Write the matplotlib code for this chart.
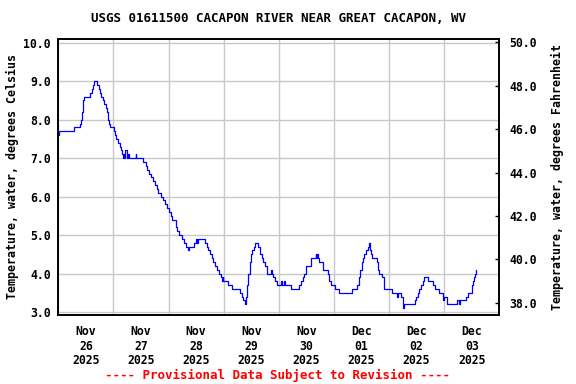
import matplotlib
matplotlib.use("Agg")
import matplotlib.pyplot as plt
import matplotlib.dates as mdates
import pandas as pd

# hours after 2025-11-26 00:00 and water temperature (deg C)
hours = [0, 0.25, 6.75, 9.25, 9.75, 10.5, 10.9, 11.3, 13.8, 14.5, 15.0, 15.7,
         16.7, 17.6, 18.2, 18.6, 19.3, 19.9, 20.6, 21.1, 21.5, 22.1, 22.6, 24.1,
         24.7, 25.1, 26.0, 26.9, 27.3, 27.9, 28.25, 28.75, 29.0, 29.25, 29.75, 30.0,
         30.5, 30.75, 33.75, 34.0, 36.75, 37.5, 38.2, 38.8, 39.5, 40.25, 40.8, 41.4,
         42.1, 42.9, 43.6, 44.7, 45.7, 46.5, 47.2, 48.2, 49.1, 49.4, 51.2, 51.8,
         52.6, 54.0, 54.75, 55.6, 56.5, 56.75, 59.1, 59.85, 60.3, 61.0, 63.9, 64.6,
         65.3, 66.1, 66.8, 67.5, 68.25, 69.0, 70.0, 70.75, 71.25, 71.5, 71.9, 74.05,
         75.8, 79.15, 79.9, 80.6, 81.3, 81.75, 82.3, 82.75, 83.5, 83.9, 84.5, 85.25,
         85.7, 86.9, 87.9, 88.6, 89.3, 90.0, 90.8, 92.6, 93.1, 93.65, 94.4, 95.1,
         96.9, 97.5, 98.3, 98.75, 101.2, 105.0, 105.7, 106.5, 107.0, 107.8, 109.9, 112.0,
         112.3, 112.6, 113.25, 113.7, 115.4, 117.35, 117.9, 118.65, 120.5, 122.4, 127.8, 130.25,
         131.0, 131.4, 132.2, 132.6, 133.3, 134.0, 134.8, 135.3, 135.8, 136.2, 136.5, 138.7,
         139.0, 139.7, 140.9, 141.6, 142.0, 145.25, 147.4, 147.75, 149.4, 149.9, 150.3, 155.1,
         155.7, 156.4, 157.1, 157.9, 158.6, 159.3, 161.0, 163.1, 163.8, 165.8, 167.3, 167.7,
         168.0, 169.2, 173.8, 174.5, 174.75, 177.6, 178.6, 180.1, 180.5, 181.1, 181.4, 181.8]
temp_c = [7.6, 7.7, 7.8, 7.9, 8.0, 8.2, 8.5, 8.6, 8.7, 8.8, 8.9, 9.0,
          8.9, 8.8, 8.7, 8.6, 8.5, 8.4, 8.3, 8.2, 8.0, 7.9, 7.8, 7.7,
          7.6, 7.5, 7.4, 7.3, 7.2, 7.1, 7.0, 7.1, 7.0, 7.2, 7.1, 7.0,
          7.1, 7.0, 7.1, 7.0, 6.9, 6.9, 6.8, 6.7, 6.6, 6.5, 6.5, 6.4,
          6.3, 6.2, 6.1, 6.0, 5.9, 5.8, 5.7, 5.6, 5.5, 5.4, 5.2, 5.1,
          5.0, 4.9, 4.8, 4.7, 4.6, 4.7, 4.8, 4.9, 4.8, 4.9, 4.8, 4.7,
          4.6, 4.5, 4.4, 4.3, 4.2, 4.1, 4.0, 3.9, 3.8, 3.9, 3.8, 3.7,
          3.6, 3.5, 3.4, 3.3, 3.2, 3.4, 3.7, 4.0, 4.3, 4.5, 4.6, 4.7,
          4.8, 4.7, 4.5, 4.4, 4.3, 4.2, 4.0, 4.1, 4.0, 3.9, 3.8, 3.7,
          3.8, 3.7, 3.8, 3.7, 3.6, 3.7, 3.8, 3.9, 4.0, 4.2, 4.4, 4.5,
          4.4, 4.5, 4.4, 4.3, 4.1, 4.0, 3.8, 3.7, 3.6, 3.5, 3.6, 3.7,
          3.9, 4.1, 4.3, 4.4, 4.5, 4.6, 4.7, 4.8, 4.6, 4.5, 4.4, 4.3,
          4.1, 4.0, 3.9, 3.8, 3.6, 3.5, 3.4, 3.5, 3.4, 3.1, 3.2, 3.3,
          3.4, 3.5, 3.6, 3.7, 3.8, 3.9, 3.8, 3.7, 3.6, 3.5, 3.4, 3.3,
          3.4, 3.2, 3.3, 3.2, 3.3, 3.4, 3.5, 3.7, 3.8, 3.9, 4.0, 4.1]

start = pd.Timestamp("2025-11-26 00:00")
end = pd.Timestamp("2025-12-04 00:00")
times = start + pd.to_timedelta(hours, unit="h")

title = "USGS 01611500 CACAPON RIVER NEAR GREAT CACAPON, WV"
left_label = "Temperature, water, degrees Celsius"
right_label = "Temperature, water, degrees Fahrenheit"
note = "---- Provisional Data Subject to Revision ----"

plt.rcParams["font.family"] = "DejaVu Sans Mono"
plt.rcParams["font.weight"] = "bold"

fig = plt.figure(figsize=(5.76, 3.84), dpi=100)
ax = fig.add_axes([0.1012, 0.1784, 0.7656, 0.7193])

ax.plot(times, temp_c, color="#0000ff", lw=0.9, drawstyle="steps-post")

ax.set_xlim(start, end)
ax.set_ylim(2.91, 10.09)
ax.set_yticks([3, 4, 5, 6, 7, 8, 9, 10])
ax.yaxis.set_major_formatter(plt.FormatStrFormatter("%.1f"))

# labels at noon, grid at midnight
ax.xaxis.set_major_locator(mdates.HourLocator(byhour=[12]))
ax.xaxis.set_major_formatter(mdates.DateFormatter("%b\n%d\n%Y"))
ax.xaxis.set_minor_locator(mdates.DayLocator())
ax.grid(True, which="minor", axis="x", color="#c8c8c8", lw=1)
ax.grid(True, which="major", axis="y", color="#c8c8c8", lw=1)
ax.grid(False, which="major", axis="x")
ax.tick_params(axis="x", which="both", length=0, pad=7, labelsize=8.3)
ax.tick_params(axis="y", length=0, pad=5.5, labelsize=8.3)
for lab in ax.get_xticklabels():
    lab.set_linespacing(1.15)
for s in ax.spines.values():
    s.set_linewidth(1.2)

ax2 = ax.twinx()
ax2.set_ylim(37.41, 50.14)
ax2.set_yticks([38, 40, 42, 44, 46, 48, 50])
ax2.yaxis.set_major_formatter(plt.FormatStrFormatter("%.1f"))
ax2.tick_params(axis="y", direction="in", length=3, width=1, pad=7, labelsize=8.3)
for s in ax2.spines.values():
    s.set_linewidth(1.2)

fig.text(0.484, 0.951, title, ha="center", va="center", fontsize=9)
fig.text(0.021, 0.54, left_label, rotation=90, ha="center", va="center", fontsize=8.4)
fig.text(0.967, 0.54, right_label, rotation=90, ha="center", va="center", fontsize=8.4)
fig.text(0.481, 0.023, note, ha="center", va="center", fontsize=9, color="#ff0000")

fig.savefig("out.png", dpi=100)
